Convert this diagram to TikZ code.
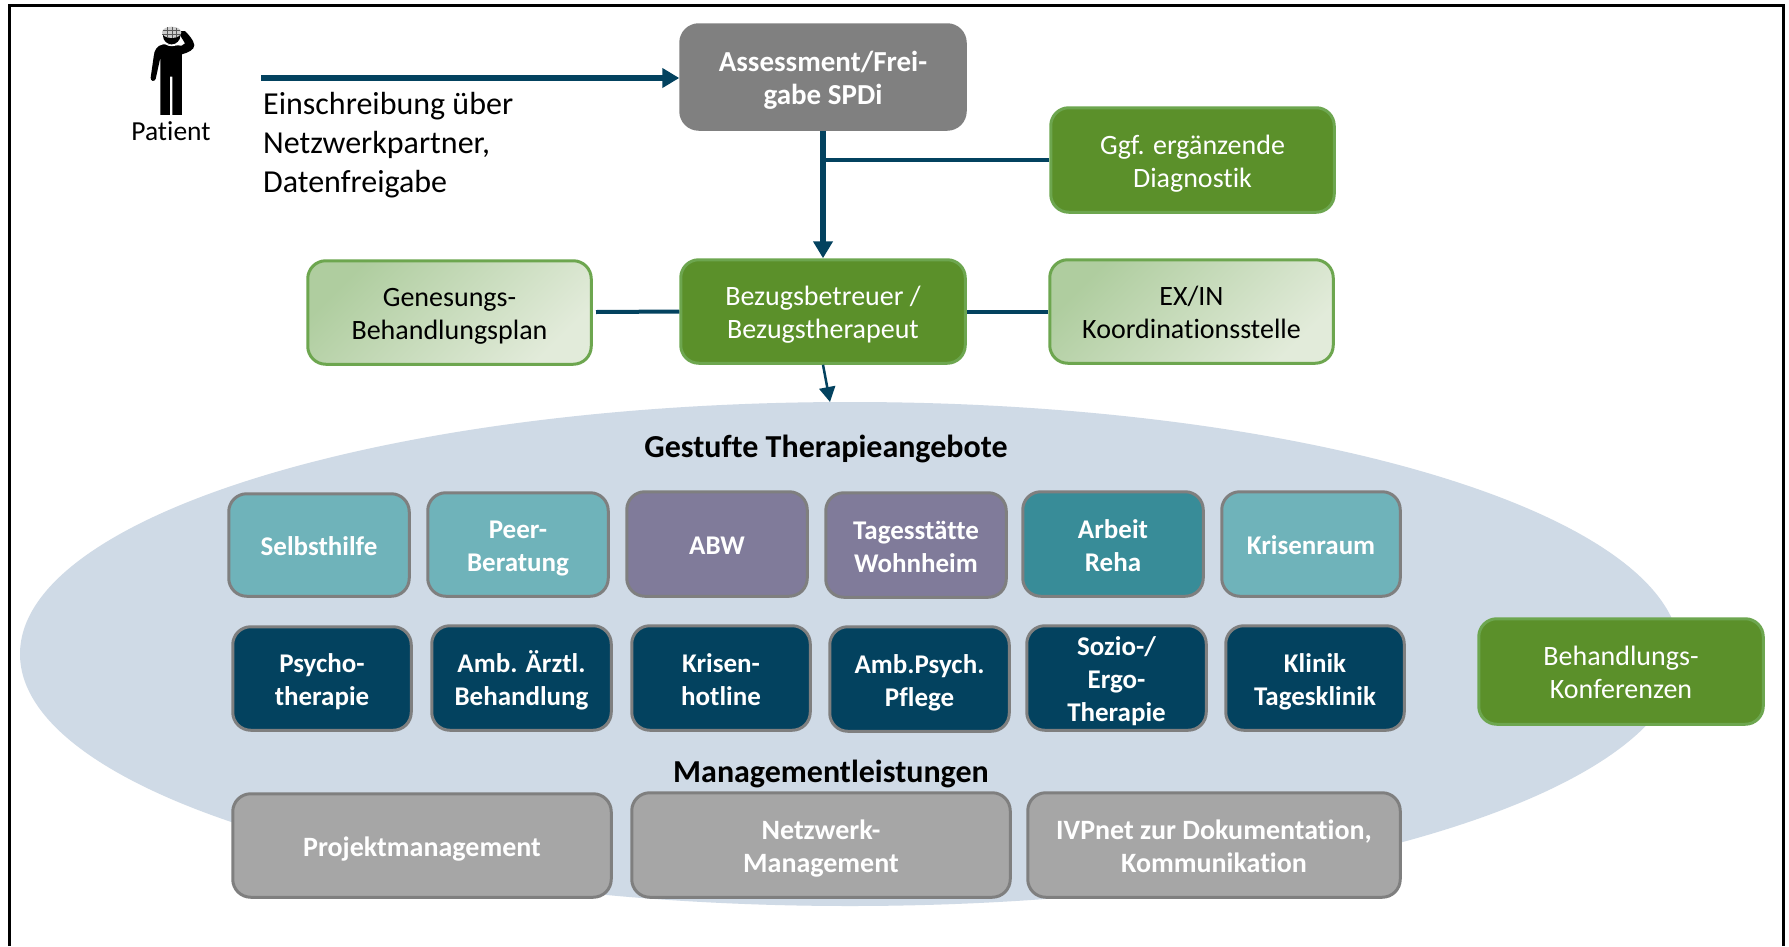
\documentclass[tikz,border=0pt]{standalone}
\usepackage{fontspec}
\setmainfont{Carlito}[Ligatures=NoCommon]
\usetikzlibrary{arrows.meta,shapes.geometric}
\definecolor{cGreen}{HTML}{5B902A}
\definecolor{cGreenB}{HTML}{6DA64F}
\definecolor{cGrad1}{HTML}{AFCD9F}
\definecolor{cGrad2}{HTML}{E2EBDA}
\definecolor{cBlue}{HTML}{03425F}
\definecolor{cBorder}{HTML}{7F7F7F}
\definecolor{cTeal}{HTML}{6FB3BA}
\definecolor{cPurple}{HTML}{807B9A}
\definecolor{cDTeal}{HTML}{388C98}
\definecolor{cGray}{HTML}{A6A6A6}
\definecolor{cDGray}{HTML}{808080}
\definecolor{cEll}{HTML}{CFDAE6}
\tikzset{
  box/.style={rounded corners=18pt,line width=3pt,align=center,inner sep=0pt,text=white,
    font=\fontsize{28}{33}\selectfont},
  tbox/.style={box,draw=cBorder,font=\fontsize{27}{33}\selectfont\bfseries},
  assess/.style={box,fill=cDGray,draw=cDGray,font=\fontsize{29}{33}\selectfont\bfseries},
  greenbox/.style={box,fill=cGreen,draw=cGreenB},
  lightbox/.style={box,draw=cGreenB,text=black,top color=cGrad1,bottom color=cGrad2,shading angle=45},
  tealbox/.style={tbox,fill=cTeal},
  purplebox/.style={tbox,fill=cPurple},
  dtealbox/.style={tbox,fill=cDTeal},
  navybox/.style={tbox,fill=cBlue},
  graybox/.style={tbox,fill=cGray,font=\fontsize{28}{33}\selectfont\bfseries},
  heading/.style={font=\fontsize{32}{38}\selectfont\bfseries,inner sep=0pt},
  conn/.style={draw=cBlue,line width=4pt},
  arrowA/.style={draw=cBlue,line width=6pt,-{Triangle[length=17pt,width=19pt]}},
  arrowB/.style={draw=cBlue,line width=2.5pt,-{Triangle[length=15pt,width=16pt]}},
}
\newcommand{\bx}[7]{%
  \pgfmathsetmacro{\bxcx}{(#3+#5)/2}%
  \pgfmathsetmacro{\bxcy}{(#4+#6)/2}%
  \pgfmathsetmacro{\bxw}{#5-#3-1.5}%
  \pgfmathsetmacro{\bxh}{#6-#4-1.5}%
  \node[#1,minimum width=\bxw pt,minimum height=\bxh pt] (#2) at (\bxcx,\bxcy) {\rule{0pt}{27pt}#7\rule[-6pt]{0pt}{0pt}};}
\begin{document}
\begin{tikzpicture}[x=1pt,y=-1pt]
\useasboundingbox (0,0) rectangle (1789,946);
\fill[white] (0,0) rectangle (1789,946);
\draw[black,line width=3pt] (9,946) -- (9,5.5) -- (1783,5.5) -- (1783,946);
% ellipse
\node[ellipse,fill=cEll,inner sep=0pt,minimum width=1660pt,minimum height=504pt] (ell) at (850,654) {};
% patient icon
\begin{scope}[shift={(135,15)},x=0.3333pt,y=-0.3333pt]
  \fill[black] (85,88) .. controls (65,92) and (58,105) .. (56,125) -- (47,188)
     .. controls (46,198) and (58,202) .. (62,192) -- (76,128) -- (76,300) -- (105,300) -- (105,185)
     -- (112,185) -- (112,300) -- (141,300) -- (141,118)
     .. controls (160,112) and (178,105) .. (178,90)
     .. controls (176,75) and (160,58) .. (150,48) -- (136,48) -- (136,62) -- (150,85) -- (140,92) -- cycle;
  \fill[black] (110,62) circle[radius=26];
  \fill[white!80!black] (110,52) ellipse[x radius=29,y radius=17];
  \draw[black!65,line width=0.7pt] (85,46) -- (135,46) (82,58) -- (138,58) (98,36) -- (98,68) (112,36) -- (112,68) (125,38) -- (125,66);
  \draw[white,line width=1.1pt] (92,86) .. controls (102,94) and (118,94) .. (130,86);
\end{scope}
\node[font=\fontsize{27.5}{33}\selectfont,inner sep=0pt] (patient) at (171,131) {Patient};
\coordinate (pstart) at (261,78);
\node[font=\fontsize{32}{39}\selectfont,align=left,anchor=north west,inner sep=0pt] (einschr) at (263,92)
  {Einschreibung über\\Netzwerkpartner,\\Datenfreigabe};
% top boxes
\bx{assess}{assessm}{680}{24}{966}{130}{Assessment/Frei-\\gabe SPDi}
\bx{greenbox}{ggf}{1050}{107}{1335}{213}{Ggf. ergänzende\\Diagnostik}
\bx{greenbox}{bez}{680}{259}{966}{364}{Bezugsbetreuer /\\Bezugstherapeut}
\bx{lightbox}{gen}{307}{260}{592}{365}{Genesungs-\\Behandlungsplan}
\bx{lightbox}{exin}{1049}{259}{1334}{364}{EX/IN\\Koordinationsstelle}
\bx{greenbox}{konf}{1478}{618}{1764}{725}{Behandlungs-\\Konferenzen}
% headings
\node[heading] (gest) at (826,449) {Gestufte Therapieangebote};
\node[heading] (mgmt) at (831,774) {Managementleistungen};
% row 1
\bx{tealbox}{selbst}{228}{493}{410}{597}{Selbsthilfe}
\bx{tealbox}{peer}{427}{492}{609}{597}{Peer-\\Beratung}
\bx{purplebox}{abw}{626}{491}{808}{597}{ABW}
\bx{purplebox}{tages}{825}{492}{1007}{598}{Tagesstätte\\Wohnheim}
\bx{dtealbox}{arbeit}{1022}{491}{1204}{597}{Arbeit\\Reha}
\bx{tealbox}{krisenr}{1221}{491}{1401}{597}{Krisenraum}
% row 2
\bx{navybox}{psycho}{232}{626}{412}{731}{Psycho-\\therapie}
\bx{navybox}{ambae}{431}{625}{612}{731}{Amb. Ärztl.\\Behandlung}
\bx{navybox}{krisenh}{631}{625}{811}{731}{Krisen-\\hotline}
\bx{navybox}{ambpsy}{829}{626}{1010}{732}{Amb.Psych.\\Pflege}
\bx{navybox}{sozio}{1026}{625}{1207}{731}{Sozio-/\\Ergo-\\Therapie}
\bx{navybox}{klinik}{1225}{625}{1405}{731}{Klinik\\Tagesklinik}
% row 3
\bx{graybox}{proj}{232}{793}{612}{898}{Projektmanagement}
\bx{graybox}{netz}{631}{792}{1011}{898}{Netzwerk-\\Management}
\bx{graybox}{ivp}{1027}{792}{1401}{898}{IVPnet zur Dokumentation,\\Kommunikation}
% connectors
\coordinate (ellTip) at (830,402);
\coordinate (genOut) at (596,312);
\draw[arrowA] (pstart) -- (pstart -| assessm.west);
\draw[arrowA] (assessm.south) -- (bez.north);
\draw[conn] (ggf.west) -- (ggf.west -| assessm.south);
\draw[conn] (genOut) -- (bez.west);
\draw[conn] (bez.east) -- (exin.west);
\draw[arrowB] (bez.south) -- (ellTip);
\end{tikzpicture}
\end{document}
